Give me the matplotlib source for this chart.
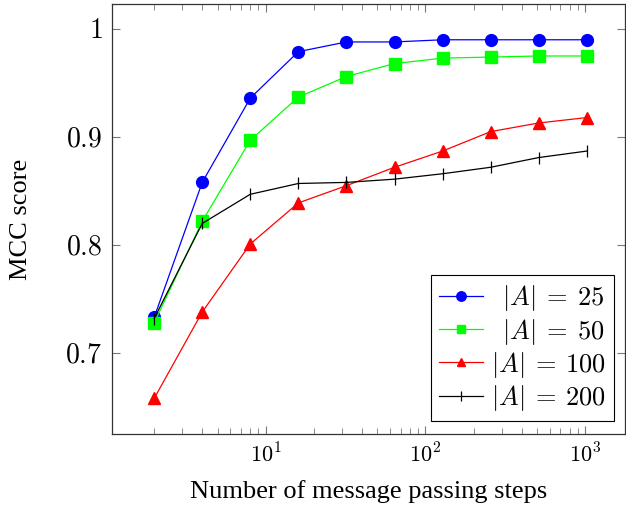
import numpy as np
import matplotlib
matplotlib.use("Agg")
import matplotlib.pyplot as plt
from matplotlib.ticker import LogLocator, FixedLocator, NullFormatter

plt.rcParams["mathtext.fontset"] = "cm"
plt.rcParams["font.family"] = ["Liberation Serif", "DejaVu Serif"]

# message passing steps
steps = [2, 4, 8, 16, 32, 64, 128, 256, 512, 1024]

# MCC score per alphabet size |A|
mcc_a25  = [0.733, 0.858, 0.936, 0.979, 0.988, 0.988, 0.990, 0.990, 0.990, 0.990]
mcc_a50  = [0.728, 0.822, 0.897, 0.937, 0.956, 0.968, 0.973, 0.974, 0.975, 0.975]
mcc_a100 = [0.658, 0.738, 0.801, 0.839, 0.855, 0.872, 0.887, 0.905, 0.913, 0.918]
mcc_a200 = [0.732, 0.820, 0.847, 0.857, 0.858, 0.861, 0.866, 0.872, 0.881, 0.887]

# \enspace = one digit width, so the labels line up on the right like pgfplots
labels = [r"$\enspace|A|\:=\:25$", r"$\enspace|A|\:=\:50$",
          r"$|A|\:=\:100$", r"$|A|\:=\:200$"]

fig = plt.figure(figsize=(6.26, 5.15), dpi=100)
ax = fig.add_axes([0.179, 0.157, 0.8195, 0.835])

ax.plot(steps, mcc_a25, color="#0000ff", lw=0.9, marker="o", ms=8.5,
        label=labels[0])
ax.plot(steps, mcc_a50, color="#00ff00", lw=0.9, marker="s", ms=8,
        label=labels[1])
ax.plot(steps, mcc_a100, color="#ff0000", lw=0.9, marker="^", ms=8,
        label=labels[2])
ax.plot(steps, mcc_a200, color="black", lw=0.9, marker="|", ms=9, mew=0.9,
        label=labels[3])

ax.set_xscale("log")
ax.set_xlim(1.09, 1778)
ax.set_ylim(0.625, 1.023)

ax.xaxis.set_major_locator(FixedLocator([10, 100, 1000]))
ax.set_xticklabels([r"$10^{1}$", r"$10^{2}$", r"$10^{3}$"])
ax.xaxis.set_minor_locator(LogLocator(base=10, subs=np.arange(2, 10)))
ax.xaxis.set_minor_formatter(NullFormatter())

ax.set_yticks([0.7, 0.8, 0.9, 1.0])
ax.set_yticklabels([r"$0.7$", r"$0.8$", r"$0.9$", r"$1$"])

ax.tick_params(which="both", direction="in", top=True, right=True,
               color="#777777")
ax.tick_params(axis="x", labelsize=16, pad=7)
ax.tick_params(axis="y", labelsize=20, pad=7)
ax.tick_params(which="major", length=6, width=0.8)
ax.tick_params(which="minor", length=4, width=0.6)

for sp in ax.spines.values():
    sp.set_linewidth(0.9)
    sp.set_edgecolor("#333333")

ax.set_xlabel("Number of message passing steps", fontsize=19, labelpad=9)
ax.set_ylabel("MCC score", fontsize=19, labelpad=24)

leg = ax.legend(loc="lower right", bbox_to_anchor=(0.979, 0.031),
                fontsize=19, frameon=True, fancybox=False, framealpha=1,
                edgecolor="black", borderpad=0.3, labelspacing=0.12,
                handlelength=1.7, handletextpad=0.3, borderaxespad=0,
                markerscale=0.8)
leg.get_frame().set_linewidth(0.8)

fig.savefig("out.png", dpi=100)
